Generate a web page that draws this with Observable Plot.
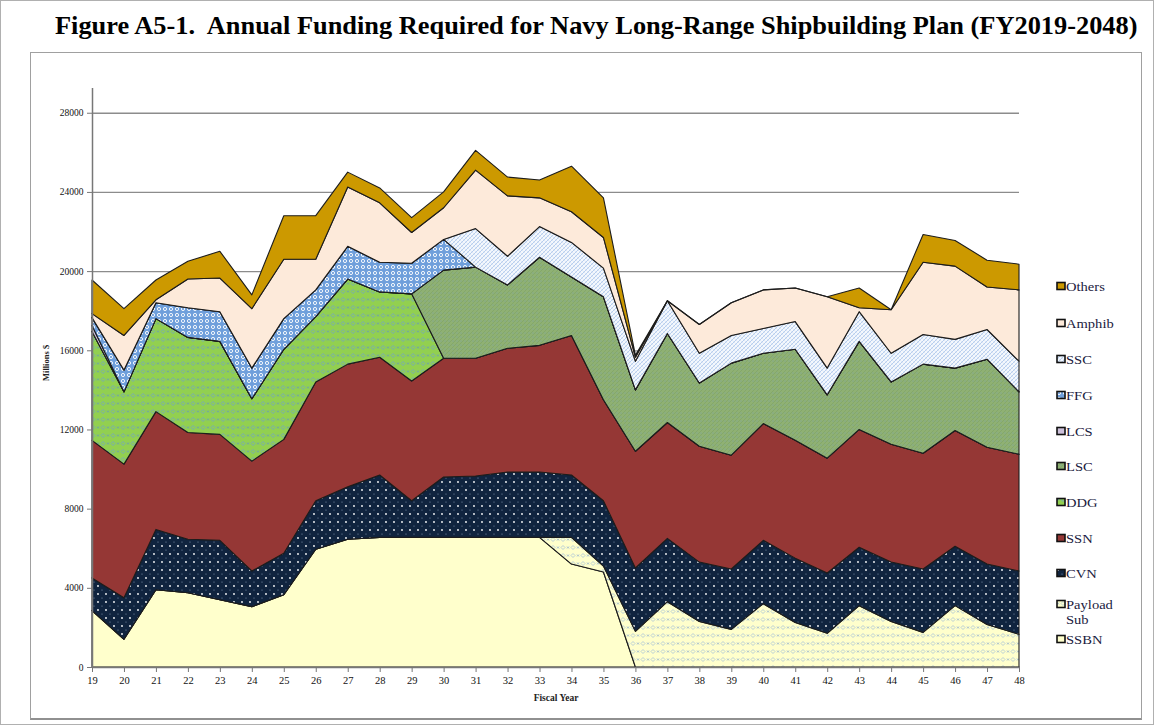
<!DOCTYPE html>
<html>
<head>
<meta charset="utf-8">
<script src="https://cdn.jsdelivr.net/npm/d3@7"></script>
<script src="https://cdn.jsdelivr.net/npm/@observablehq/plot@0.6"></script>
<style>
  body { margin: 0; background: #fff; }
  #wrap { position: relative; width: 1154px; height: 725px; background: #fff; overflow: hidden; font-family: "Liberation Serif", "Times New Roman", serif; }
  #outer { position: absolute; left: 0; top: 0; width: 1152px; height: 723px; border: 1px solid #b0b0b0; }
  #frame { position: absolute; left: 30px; top: 52px; width: 1110px; height: 665px; border: 1px solid #a0a0a0; border-bottom: 2px solid #909090; }
  #title { position: absolute; left: 55px; top: 12px; font-size: 24.5px; font-weight: bold; color: #000; white-space: pre; transform: scaleX(1.076); transform-origin: 0 0; }
  #chart { position: absolute; left: 0; top: 0; }
  #legend { position: absolute; left: 0; top: 0; }
</style>
</head>
<body>
<div id="wrap">
  <div id="outer"></div>
  <div id="frame"></div>
  <div id="title">Figure A5-1.  Annual Funding Required for Navy Long-Range Shipbuilding Plan (FY2019-2048)</div>
  <svg width="0" height="0" style="position:absolute">
    <defs>
      <pattern id="p-cvn" width="8" height="8" patternUnits="userSpaceOnUse">
        <rect width="8" height="8" fill="#10243F"/>
        <circle cx="2" cy="2" r="0.9" fill="#ffffff"/>
        <circle cx="6" cy="6" r="0.6" fill="#7f93ad"/>
      </pattern>
      <pattern id="p-payload" width="10" height="8" patternUnits="userSpaceOnUse">
        <rect width="10" height="8" fill="#FFFFCC"/>
        <path d="M3 1.5 L5 3.5 L3 5.5 L1 3.5 Z" fill="none" stroke="#8aaedc" stroke-width="0.6"/>
        <path d="M7 2.5 L9 4.5 M9 2.5 L7 4.5" stroke="#6f97d0" stroke-width="0.6"/>
      </pattern>
      <pattern id="p-ddg" width="10" height="8" patternUnits="userSpaceOnUse">
        <rect width="10" height="8" fill="#92D050"/>
        <path d="M3 1.5 L5 3.5 L3 5.5 L1 3.5 Z" fill="none" stroke="#6a9ae0" stroke-width="0.7"/>
        <path d="M7 2.5 L9 4.5 M9 2.5 L7 4.5" stroke="#5a8ad8" stroke-width="0.6"/>
      </pattern>
      <pattern id="p-lsc" width="4" height="4" patternUnits="userSpaceOnUse">
        <rect width="4" height="4" fill="#8FB173"/>
        <path d="M0 4 L4 0" stroke="#82a46a" stroke-width="0.8"/>
        <circle cx="1" cy="1" r="0.45" fill="#6d94d6"/>
      </pattern>
      <pattern id="p-ffg" width="6" height="6" patternUnits="userSpaceOnUse">
        <rect width="6" height="6" fill="#6F9FDB"/>
        <circle cx="3" cy="3" r="1.6" fill="none" stroke="#ffffff" stroke-width="0.9"/>
      </pattern>
      <pattern id="p-ssc" width="4" height="4" patternUnits="userSpaceOnUse">
        <rect width="4" height="4" fill="#F4F8FD"/>
        <path d="M0 4 L4 0 M-1 1 L1 -1 M3 5 L5 3" stroke="#9dbbe6" stroke-width="0.7"/>
        <path d="M0 0 L4 4" stroke="#c9dbf2" stroke-width="0.5"/>
      </pattern>
    </defs>
  </svg>
  <div id="chart"></div>
  <svg id="legend" width="1154" height="725"></svg>
</div>
<script>
// ---- Data (Millions $ per fiscal year, FY2019-FY2048) ----
const years = d3.range(19, 49);
const seriesNames = ["SSBN", "Payload Sub", "CVN", "SSN", "DDG", "LSC", "LCS", "FFG", "SSC", "Amphib", "Others"];
const ssbn =       [2850,1400,3900,3750,3400,3050,3650,5950,6450,6550,6550,6550,6550,6550,6550,5200,4800,0,0,0,0,0,0,0,0,0,0,0,0,0];
const payloadSub = [0,0,0,0,0,0,0,0,0,0,0,0,0,0,0,1350,300,1800,3300,2300,1900,3200,2250,1700,3100,2300,1750,3100,2150,1650];
const cvn =        [1650,2100,3050,2700,3000,1800,2100,2450,2650,3150,1850,3050,3100,3300,3300,3150,3300,3200,3200,3000,3050,3200,3250,3050,2950,3000,3200,3000,3050,3200];
const ssn =        [6950,6750,5950,5400,5350,5550,5750,6000,6200,5950,6050,6000,5950,6250,6400,7050,5100,5900,5850,5850,5750,5900,5950,5800,5950,5950,5850,5850,5900,5900];
const ddg =        [5500,3650,4700,4800,4700,3150,4550,3300,4300,3300,4400,0,0,0,0,0,0,0,0,0,0,0,0,0,0,0,0,0,0,0];
const lsc =        [0,0,0,0,0,0,0,0,0,0,0,4450,4600,3200,4450,2950,5200,3100,4500,3200,4650,3550,4600,3200,4450,3150,4500,3150,4450,3150];
const lcs =        [300,0,0,0,0,0,0,0,0,0,0,0,0,0,0,0,0,0,0,0,0,0,0,0,0,0,0,0,0,0];
const ffg =        [400,1100,800,1500,1500,1550,1550,1350,1650,1500,1550,1550,0,0,0,0,0,0,0,0,0,0,0,0,0,0,0,0,0,0];
const ssc =        [0,0,0,0,0,0,0,0,0,0,0,0,1950,1450,1550,1750,1450,1450,1650,1500,1400,1250,1400,1350,1500,1450,1500,1450,1500,1550];
const amphib =     [200,1750,150,1450,1700,3000,3000,1550,3000,3000,1550,1600,2950,3050,1450,1550,1550,200,0,1450,1650,1950,1700,3600,200,2200,3650,3700,2150,3600];
const others =     [1700,1350,1000,900,1350,700,2200,2200,750,750,750,800,1000,950,900,2300,2000,100,0,0,0,0,0,0,1000,0,1400,1300,1350,1300];
const yTicks = [0, 4000, 8000, 12000, 16000, 20000, 24000, 28000];

const valuesBySeries = [ssbn, payloadSub, cvn, ssn, ddg, lsc, lcs, ffg, ssc, amphib, others];
const fills = ["#FFFFCC", "url(#p-payload)", "url(#p-cvn)", "#953735", "url(#p-ddg)", "url(#p-lsc)", "#CCC0DA", "url(#p-ffg)", "url(#p-ssc)", "#FDEADA", "#CC9900"];

const data = [];
seriesNames.forEach((s, i) => {
  years.forEach((yr, j) => data.push({series: s, year: yr, value: valuesBySeries[i][j]}));
});

const font = "'Liberation Serif', 'Times New Roman', serif";

const chart = Plot.plot({
  width: 1154,
  height: 725,
  marginLeft: 92,
  marginRight: 135,
  marginTop: 88,
  marginBottom: 58,
  style: {fontFamily: font, fontSize: "10px", color: "#111", background: "transparent", overflow: "visible"},
  x: {type: "linear", domain: [19, 48], label: null},
  y: {domain: [0, 29250], label: null},
  color: {type: "ordinal", domain: seriesNames, range: fills},
  marks: [
    Plot.gridY(yTicks.filter(d => d > 0), {stroke: "#8c8c8c", strokeOpacity: 1, strokeWidth: 1.3}),
    Plot.areaY(data, {x: "year", y: "value", z: "series", fill: "series", stroke: "#1c1c1c", strokeWidth: 1.1, strokeLinejoin: "round"}),
    Plot.ruleX([19], {y1: 0, y2: 29250, stroke: "#777", strokeWidth: 1.5}),
    Plot.ruleY([0], {stroke: "#777", strokeWidth: 1.5}),
    Plot.axisY({ticks: yTicks, tickSize: 5, tickPadding: 4, tickFormat: d => String(d), fontSize: 9.5, stroke: "#777", label: null}),
    Plot.axisX({ticks: years, tickSize: 5, tickPadding: 4, tickFormat: d => String(d), fontSize: 10.5, stroke: "#777", label: null}),
    Plot.text(["Fiscal Year"], {frameAnchor: "bottom", dx: 0, dy: 33, fontWeight: "bold", fontSize: 9.5, fill: "#222"}),
    Plot.text(["Millions $"], {frameAnchor: "left", dx: -46, dy: 3, rotate: -90, fontWeight: "bold", fontSize: 8.5, fill: "#222"})
  ]
});
document.getElementById("chart").appendChild(chart);

// ---- Legend (top-to-bottom order as in reference) ----
const legendItems = [
  {name: "Others", lines: ["Others"], y: 287},
  {name: "Amphib", lines: ["Amphib"], y: 324},
  {name: "SSC", lines: ["SSC"], y: 360},
  {name: "FFG", lines: ["FFG"], y: 396},
  {name: "LCS", lines: ["LCS"], y: 432},
  {name: "LSC", lines: ["LSC"], y: 467},
  {name: "DDG", lines: ["DDG"], y: 503},
  {name: "SSN", lines: ["SSN"], y: 539},
  {name: "CVN", lines: ["CVN"], y: 574},
  {name: "Payload Sub", lines: ["Payload", "Sub"], y: 605},
  {name: "SSBN", lines: ["SSBN"], y: 640}
];
const lg = d3.select("#legend");
legendItems.forEach(it => {
  const fill = fills[seriesNames.indexOf(it.name)];
  lg.append("rect").attr("x", 1057).attr("y", it.y - 4.5).attr("width", 8).attr("height", 7)
    .attr("fill", fill).attr("stroke", "#111").attr("stroke-width", 1.6);
  it.lines.forEach((t, k) => {
    lg.append("text").attr("transform", `translate(1066,${it.y + 4 + k * 15}) scale(1.12,1)`)
      .attr("font-family", font).attr("font-size", 13).attr("fill", "#1a1a40").text(t);
  });
});
</script>
</body>
</html>
